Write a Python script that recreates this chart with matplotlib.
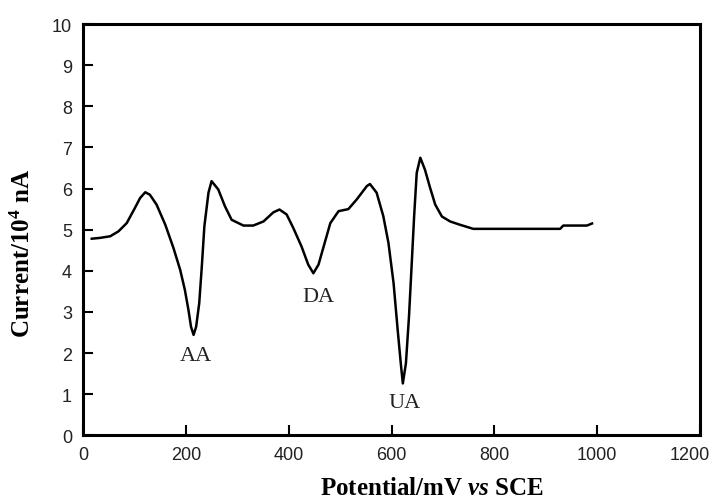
import matplotlib.pyplot as plt
from matplotlib.transforms import ScaledTranslation

plt.rcParams['mathtext.fontset'] = 'custom'
plt.rcParams['mathtext.rm'] = 'Liberation Serif:bold'
plt.rcParams['mathtext.it'] = 'Liberation Serif:italic:bold'
plt.rcParams['mathtext.bf'] = 'Liberation Serif:bold'

# differential pulse voltammogram
potential = [17, 33, 53, 69, 85, 101, 111, 121, 130, 143, 160, 176, 189, 198, 205, 210,
             215, 220, 226, 231, 236, 244, 250, 263, 276, 289, 312, 331, 351, 370, 382,
             396, 409, 425, 438, 448, 458, 468, 481, 497, 516, 532, 552, 558, 571, 584,
             594, 604, 612, 618, 622, 628, 634, 639, 644, 649, 656, 665, 675, 685, 698,
             714, 733, 759, 928, 934, 980, 990]
current = [4.78, 4.80, 4.84, 4.96, 5.16, 5.53, 5.77, 5.91, 5.85, 5.61, 5.12, 4.55, 4.02,
           3.54, 3.05, 2.64, 2.44, 2.64, 3.21, 4.10, 5.08, 5.90, 6.18, 5.98, 5.57, 5.24,
           5.10, 5.10, 5.20, 5.42, 5.49, 5.37, 5.04, 4.59, 4.15, 3.94, 4.15, 4.59, 5.16,
           5.45, 5.50, 5.73, 6.06, 6.11, 5.90, 5.33, 4.68, 3.70, 2.56, 1.75, 1.26, 1.75,
           2.89, 4.10, 5.33, 6.38, 6.75, 6.46, 6.02, 5.61, 5.32, 5.20, 5.12, 5.02, 5.02,
           5.10, 5.10, 5.15]
peak_names = ['AA', 'DA', 'UA']
peak_x = [220, 457, 626]
peak_y = [1.95, 3.37, 0.80]

fig = plt.figure(figsize=(7.17, 5.02), dpi=100)
ax = fig.add_axes([0.1158, 0.131, 0.8605, 0.819])

ax.plot(potential, current, color='black', lw=1.8)
for name, x, y in zip(peak_names, peak_x, peak_y):
    ax.text(x, y, name, ha='center', va='center', fontsize=16, family='Liberation Serif',
            color='#222222')

ax.set_xlim(0, 1200)
ax.set_ylim(0, 10)
ax.set_xticks(range(0, 1201, 200))
ax.set_yticks(range(0, 11))
ax.tick_params(direction='in', length=7, width=1.5, labelsize=13, pad=8)
for lab in ax.get_xticklabels() + ax.get_yticklabels():
    lab.set_family('Liberation Sans')
    lab.set_color('#222222')
last = ax.get_xticklabels()[-1]
last.set_transform(last.get_transform() + ScaledTranslation(-0.1, 0, fig.dpi_scale_trans))
for s in ax.spines.values():
    s.set_linewidth(2.2)

ax.set_xlabel('Potential/mV $\\mathit{vs}$ SCE', fontsize=18, fontweight='bold',
              family='Liberation Serif')
ax.set_ylabel('Current/10$^{\\mathbf{4}}$ nA', fontsize=18, fontweight='bold',
              family='Liberation Serif')
ax.xaxis.set_label_coords(0.566, -0.098)
ax.yaxis.set_label_coords(-0.078, 0.444)

fig.savefig('out.png', dpi=100)
